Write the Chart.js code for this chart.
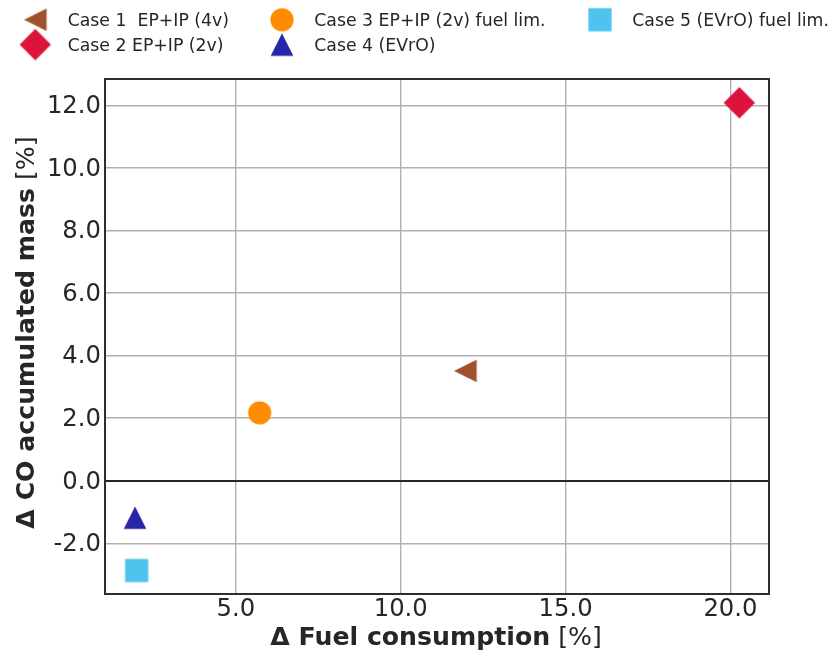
<!DOCTYPE html>
<html>
<head>
<meta charset="utf-8">
<script src="https://cdn.jsdelivr.net/npm/chart.js@4/dist/chart.umd.min.js"></script>
<style>
  html, body { margin: 0; padding: 0; background: #ffffff; }
  #wrap { width: 833px; height: 657px; position: relative; }
</style>
</head>
<body>
<div id="wrap"><canvas id="c" width="833" height="657"></canvas></div>
<script>
// Cases compared against the baseline engine
const categories = [
  'Case 1  EP+IP (4v)',
  'Case 2 EP+IP (2v)',
  'Case 3 EP+IP (2v) fuel lim.',
  'Case 4 (EVrO)',
  'Case 5 (EVrO) fuel lim.'
];
// Δ fuel consumption [%] per case
const fuelDelta = [11.96, 20.27, 5.72, 1.94, 1.99];
// Δ CO accumulated mass [%] per case
const coDelta = [3.51, 12.08, 2.17, -1.18, -2.87];
// Axis ticks
const xTicks = [5, 10, 15, 20];
const yTicks = [-2, 0, 2, 4, 6, 8, 10, 12];

const colors = ['#a0522d', '#dc143c', '#ff8c00', '#2626a6', '#4fc3ee'];
const shapes = ['triLeft', 'diamond', 'circle', 'triUp', 'square'];

const FONT = "'DejaVu Sans', sans-serif";
const TEXT = '#262626';

// Marker sprites drawn once and reused by the points and the legend
function makeMarker(shape, color) {
  const S = 36, c = S / 2;
  const cv = document.createElement('canvas');
  cv.width = S; cv.height = S;
  const g = cv.getContext('2d');
  g.fillStyle = color;
  g.beginPath();
  if (shape === 'triLeft') {
    const h = 11.3;
    g.moveTo(c + h, c - h); g.lineTo(c - h, c); g.lineTo(c + h, c + h);
  } else if (shape === 'triUp') {
    const h = 11.3;
    g.moveTo(c, c - h); g.lineTo(c - h, c + h); g.lineTo(c + h, c + h);
  } else if (shape === 'diamond') {
    const r = 15.7;
    g.moveTo(c, c - r); g.lineTo(c + r, c); g.lineTo(c, c + r); g.lineTo(c - r, c);
  } else if (shape === 'circle') {
    g.arc(c, c, 11.6, 0, Math.PI * 2);
  } else {
    const h = 11.6;
    g.rect(c - h, c - h, 2 * h, 2 * h);
  }
  g.closePath();
  g.fill();
  return cv;
}
const markers = shapes.map((s, i) => makeMarker(s, colors[i]));

const datasets = categories.map((name, i) => ({
  label: name,
  data: [{ x: fuelDelta[i], y: coDelta[i] }],
  pointStyle: markers[i],
  pointRadius: 12,
  backgroundColor: colors[i],
  borderColor: colors[i]
}));

function drawMixed(ctx, boldPart, normalPart, size) {
  ctx.font = `bold ${size}px ${FONT}`;
  const wb = ctx.measureText(boldPart).width;
  ctx.font = `${size}px ${FONT}`;
  const wn = ctx.measureText(normalPart).width;
  const start = -(wb + wn) / 2;
  ctx.textAlign = 'left';
  ctx.textBaseline = 'alphabetic';
  ctx.fillStyle = TEXT;
  ctx.font = `bold ${size}px ${FONT}`;
  ctx.fillText(boldPart, start, 0);
  ctx.font = `${size}px ${FONT}`;
  ctx.fillText(normalPart, start + wb, 0);
}

const decor = {
  id: 'decor',
  beforeDatasetsDraw(chart) {
    const { ctx, chartArea: a } = chart;
    ctx.save();
    ctx.strokeStyle = '#2e2e2e';
    ctx.lineWidth = 2;
    ctx.strokeRect(a.left, a.top, a.right - a.left, a.bottom - a.top);
    ctx.restore();
  },
  afterDraw(chart) {
    const { ctx, chartArea: a } = chart;
    ctx.save();
    // Legend: three columns, filled column by column
    const markerX = [35.3, 282, 600];
    const textX = [67.7, 314.3, 632.3];
    const rowY = [19.7, 44.6];
    const rowBase = [25.8, 50.8];
    ctx.font = `17.3px ${FONT}`;
    ctx.fillStyle = TEXT;
    ctx.textAlign = 'left';
    ctx.textBaseline = 'alphabetic';
    categories.forEach((name, i) => {
      const col = Math.floor(i / 2), row = i % 2;
      const m = markers[i];
      ctx.drawImage(m, markerX[col] - m.width / 2, rowY[row] - m.height / 2);
      ctx.fillText(name, textX[col], rowBase[row]);
    });
    // Axis titles
    ctx.save();
    ctx.translate((a.left + a.right) / 2 - 1, 645);
    drawMixed(ctx, 'Δ Fuel consumption', ' [%]', 25.2);
    ctx.restore();
    ctx.save();
    ctx.translate(34, (a.top + a.bottom) / 2 - 4);
    ctx.rotate(-Math.PI / 2);
    drawMixed(ctx, 'Δ CO accumulated mass', ' [%]', 25.2);
    ctx.restore();
    ctx.restore();
  }
};

const gridColor = (c) => (c.tick && c.tick.value === 0 ? '#262626' : '#b0b0b0');
const gridWidth = (c) => (c.tick && c.tick.value === 0 ? 2 : 1.4);

new Chart(document.getElementById('c'), {
  type: 'scatter',
  data: { datasets },
  plugins: [decor],
  options: {
    responsive: false,
    animation: false,
    layout: { padding: { left: 0, top: 79, right: 64, bottom: 0 } },
    plugins: { legend: { display: false }, tooltip: { enabled: false } },
    scales: {
      x: {
        type: 'linear',
        min: 1.03,
        max: 21.17,
        afterBuildTicks: (s) => { s.ticks = xTicks.map(v => ({ value: v })); },
        afterFit: (s) => { s.height = 63; },
        ticks: {
          font: { family: FONT, size: 24.3 },
          color: TEXT,
          padding: 1,
          maxRotation: 0,
          callback: (v) => Number(v).toFixed(1)
        },
        grid: { color: gridColor, lineWidth: gridWidth, drawTicks: false },
        border: { display: false }
      },
      y: {
        type: 'linear',
        min: -3.62,
        max: 12.84,
        afterBuildTicks: (s) => { s.ticks = yTicks.map(v => ({ value: v })); },
        afterFit: (s) => { s.width = 105; },
        ticks: {
          font: { family: FONT, size: 24.3 },
          color: TEXT,
          padding: 4,
          labelOffset: 1.5,
          callback: (v) => Number(v).toFixed(1)
        },
        grid: { color: gridColor, lineWidth: gridWidth, drawTicks: false },
        border: { display: false }
      }
    }
  }
});
</script>
</body>
</html>
